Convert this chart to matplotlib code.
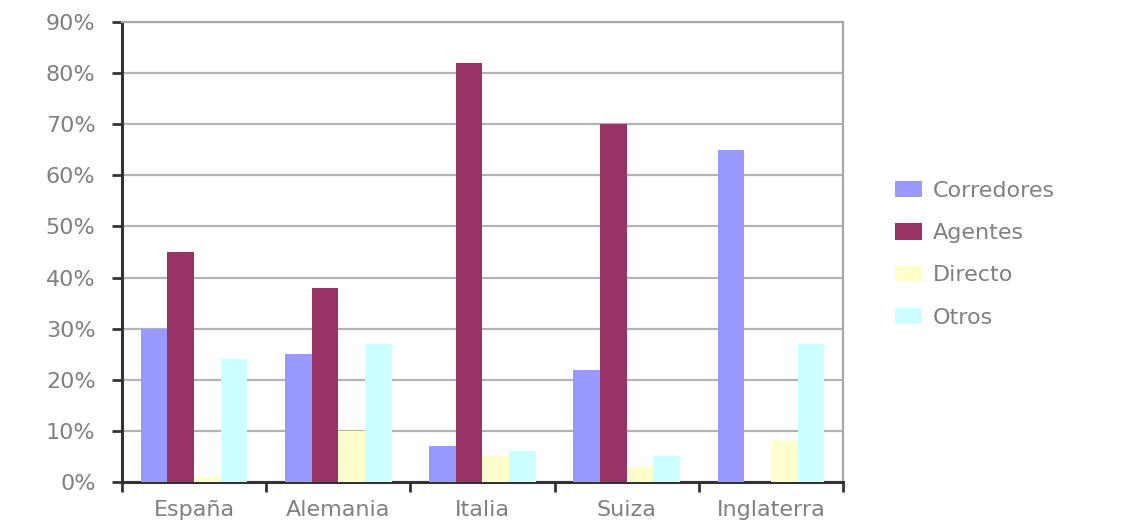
import numpy as np
import matplotlib
matplotlib.use("Agg")
import matplotlib.pyplot as plt
from matplotlib.ticker import FixedLocator

# datos (%)
paises = ["España", "Alemania", "Italia", "Suiza", "Inglaterra"]
corredores = [30, 25, 7, 22, 65]
agentes = [45, 38, 82, 70, 0]
directo = [1, 10, 5, 3, 8]
otros = [24, 27, 6, 5, 27]

series = ["Corredores", "Agentes", "Directo", "Otros"]
colores = ["#9999FF", "#993366", "#FFFFCC", "#CCFFFF"]
valores = [corredores, agentes, directo, otros]

gris = "#808080"
plt.rcParams["font.family"] = ["DejaVu Sans"]

fig = plt.figure(figsize=(11.26, 5.24), dpi=100)
ax = fig.add_axes([0.1083, 0.0802, 0.6404, 0.8778])

x = np.arange(len(paises))
ancho = 0.185
for i, (nombre, col, vals) in enumerate(zip(series, colores, valores)):
    ax.bar(x + (i - 1.5) * ancho, vals, ancho, color=col, label=nombre, zorder=3)

ax.set_xlim(-0.5, len(paises) - 0.5)
ax.set_ylim(0, 90)
ax.set_yticks(np.arange(0, 91, 10))
ax.set_yticklabels([f"{v}%" for v in range(0, 91, 10)])
ax.yaxis.grid(True, color="#b4b4b4", linewidth=1.6, zorder=0)

ax.set_xticks(x)
ax.set_xticklabels(paises)
ax.xaxis.set_minor_locator(FixedLocator(np.arange(-0.5, len(paises), 1.0)))
ax.tick_params(axis="x", which="major", length=0, pad=13, labelsize=16, labelcolor=gris)
ax.tick_params(axis="x", which="minor", length=7, width=2, color="#333333")
ax.tick_params(axis="y", length=7, width=2, color="#333333", pad=12, labelsize=16, labelcolor=gris)

for lado in ["left", "bottom"]:
    ax.spines[lado].set_color("#333333")
    ax.spines[lado].set_linewidth(2.2)
for lado in ["top", "right"]:
    ax.spines[lado].set_color("#a8a8a8")
    ax.spines[lado].set_linewidth(1.6)

leg = ax.legend(loc="center left", bbox_to_anchor=(1.06, 0.495), frameon=False,
                fontsize=16, handlelength=1.2, handleheight=0.75, handletextpad=0.5,
                labelspacing=1.0, borderaxespad=0)
for t in leg.get_texts():
    t.set_color(gris)

fig.savefig("out.png", dpi=100)
